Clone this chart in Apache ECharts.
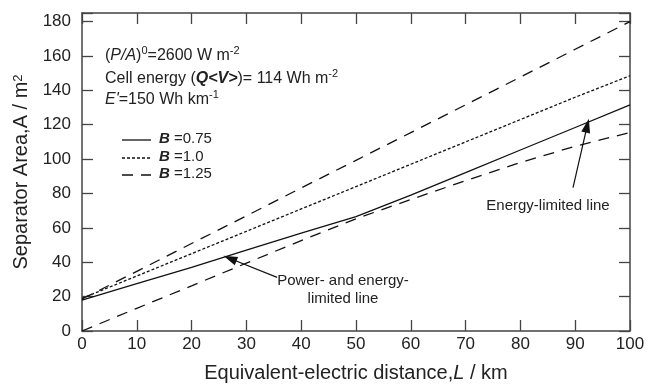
<!DOCTYPE html>
<html>
<head>
<meta charset="utf-8">
<script src="https://cdn.jsdelivr.net/npm/echarts@6/dist/echarts.min.js"></script>
<style>
  html, body { margin: 0; padding: 0; background: #fff; }
  #charts { width: 649px; height: 388px; }
</style>
</head>
<body>
<div id="charts"></div>
<script>
// distance L / km
var distance = [0, 10, 20, 30, 40, 50, 60, 70, 80, 90, 100];
// separator area A / m2
var areaB075 = [18, 27.5, 37, 47, 57, 66.5, 79, 92.1, 105.3, 118.4, 131.6];
var areaB10 = [19, 32, 45, 58, 71, 84, 97, 110, 123, 136, 148.5];
var areaB125 = [18.6, 34.7, 50.9, 67, 83.2, 99.3, 115.4, 131.6, 147.7, 163.9, 180];
var areaB125low = [0, 13.2, 26.3, 39.5, 52.6, 65.3, 76.5, 87.5, 98, 107.5, 115.5];
var yTicks = [0, 20, 40, 60, 80, 100, 120, 140, 160, 180];

var FONT = '"Liberation Sans", Arial, sans-serif';
var INK = '#222';

function pairs(ys) {
    var out = [];
    for (var i = 0; i < distance.length; i++) out.push([distance[i], ys[i]]);
    return out;
}

function curve(name, ys, type, extra) {
    var s = {
        name: name,
        type: 'line',
        data: pairs(ys),
        symbol: 'none',
        silent: true,
        xAxisIndex: 0,
        yAxisIndex: 0,
        lineStyle: { color: '#111', width: 1.3, type: type }
    };
    if (extra) s.markLine = extra;
    return s;
}

function axisLine() {
    return { show: true, onZero: false, lineStyle: { color: '#444', width: 1.5 } };
}
function tick() {
    return { show: true, inside: true, length: 11, lineStyle: { color: '#444', width: 1.3 } };
}

// arrows for the two labels
var arrows = {
    silent: true,
    symbol: ['none', 'triangle'],
    symbolSize: [9, 14],
    label: { show: false },
    lineStyle: { color: '#111', width: 1.2, type: 'solid' },
    data: [
        [{ coord: [35.6, 31.2] }, { coord: [27.0, 42.2] }],
        [{ coord: [89.6, 83.4] }, { coord: [92.2, 119.5] }]
    ]
};

var myChart = echarts.init(document.getElementById('charts'));

var italic = { fontStyle: 'italic', fontSize: 16, lineHeight: 22, fontFamily: FONT, fill: INK };
var italicBold = { fontStyle: 'italic', fontWeight: 'bold', fontSize: 16, lineHeight: 22, fontFamily: FONT, fill: INK };
var sup = { fontSize: 11, verticalAlign: 'top', lineHeight: 10, fontFamily: FONT, fill: INK };
var legendB = { fontStyle: 'italic', fontWeight: 'bold', fontSize: 15, fontFamily: FONT, fill: INK };

function note(top, text, rich) {
    return {
        type: 'text', left: 105, top: top,
        style: { text: text, font: '16px ' + FONT, lineHeight: 22, fill: INK, rich: rich }
    };
}

myChart.setOption({
    animation: false,
    backgroundColor: '#fff',
    grid: { left: 82, right: 19, top: 13, bottom: 56 },
    xAxis: [{
        type: 'value', min: 0, max: 100, interval: 10, position: 'bottom',
        axisLine: axisLine(), axisTick: tick(), splitLine: { show: false },
        axisLabel: { color: INK, fontSize: 17, fontFamily: FONT, margin: 5 },
        name: 'Equivalent-electric distance,{i|L} / km',
        nameLocation: 'middle', nameGap: 32,
        nameTextStyle: {
            color: INK, fontSize: 20, fontFamily: FONT,
            rich: { i: { fontStyle: 'italic', fontSize: 20, fontFamily: FONT, color: INK } }
        }
    }, {
        type: 'value', min: 0, max: 100, interval: 10, position: 'top',
        axisLine: axisLine(), axisTick: tick(), splitLine: { show: false },
        axisLabel: { show: false }
    }],
    yAxis: [{
        type: 'value', min: 0, max: 185, interval: 20, position: 'left',
        axisLine: axisLine(), axisTick: tick(), splitLine: { show: false },
        axisLabel: {
            color: INK, fontSize: 17, fontFamily: FONT, margin: 11,
            formatter: function (v) { return yTicks.indexOf(v) >= 0 ? String(v) : ''; }
        },
        name: 'Separator Area,A / m{s|2}',
        nameLocation: 'middle', nameGap: 50, nameRotate: 90,
        nameTextStyle: {
            color: INK, fontSize: 20, fontFamily: FONT,
            rich: { s: { fontSize: 13, verticalAlign: 'top', lineHeight: 12, fontFamily: FONT, color: INK } }
        }
    }, {
        type: 'value', min: 0, max: 185, interval: 20, position: 'right',
        axisLine: axisLine(), axisTick: tick(), splitLine: { show: false },
        axisLabel: { show: false }
    }],
    series: [
        curve('B=0.75', areaB075, 'solid', arrows),
        curve('B=1.0', areaB10, [3, 2]),
        curve('B=1.25', areaB125, [11, 8]),
        curve('B=1.25 low', areaB125low, [11, 8]),
        // keeps the top and right axes alive
        {
            type: 'line', data: [], xAxisIndex: 1, yAxisIndex: 1, symbol: 'none', silent: true
        }
    ],
    graphic: [
        note(45, '({i|P/A}){s|0}=2600 W m{s|-2}', { i: italic, s: sup }),
        note(68, 'Cell energy ({i|Q<V>})= 114 Wh m{s|-2}', { i: italicBold, s: sup }),
        note(89, "{i|E'}=150 Wh km{s|-1}", { i: italic, s: sup }),
        // legend
        { type: 'line', shape: { x1: 122, y1: 140, x2: 151, y2: 140 }, style: { stroke: '#111', lineWidth: 1.3 } },
        { type: 'line', shape: { x1: 122, y1: 158, x2: 151, y2: 158 }, style: { stroke: '#111', lineWidth: 1.3, lineDash: [3, 2] } },
        { type: 'line', shape: { x1: 122, y1: 175, x2: 151, y2: 175 }, style: { stroke: '#111', lineWidth: 1.3, lineDash: [11, 8] } },
        {
            type: 'text', left: 159, top: 131,
            style: { text: '{i|B} =0.75', font: '15px ' + FONT, fill: INK, rich: { i: legendB } }
        },
        {
            type: 'text', left: 159, top: 149,
            style: { text: '{i|B} =1.0', font: '15px ' + FONT, fill: INK, rich: { i: legendB } }
        },
        {
            type: 'text', left: 159, top: 166,
            style: { text: '{i|B} =1.25', font: '15px ' + FONT, fill: INK, rich: { i: legendB } }
        },
        // arrow labels
        {
            type: 'text', x: 343, y: 272,
            style: { text: 'Power- and energy-\nlimited line', font: '15px ' + FONT, fill: INK, align: 'center', lineHeight: 18 }
        },
        {
            type: 'text', x: 548, y: 198,
            style: { text: 'Energy-limited line', font: '15px ' + FONT, fill: INK, align: 'center' }
        }
    ]
});
</script>
</body>
</html>
